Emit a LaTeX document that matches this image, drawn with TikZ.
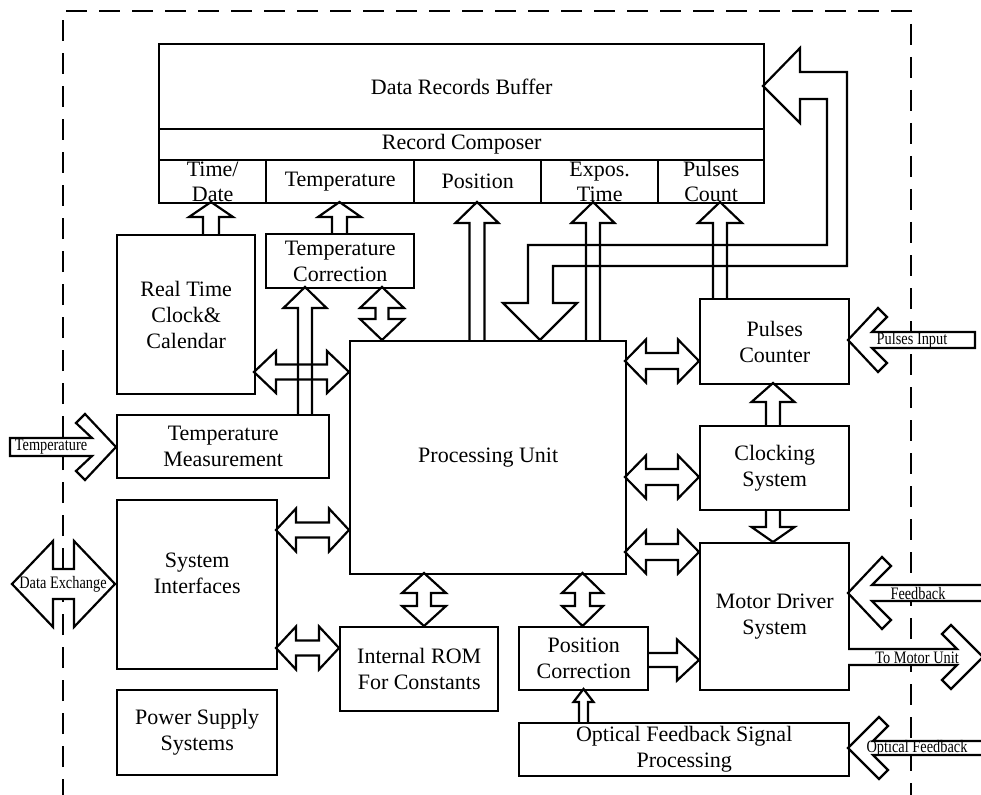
\documentclass[tikz,border=0pt]{standalone}
\usepackage{fontspec}
\usepackage{graphicx}
\setmainfont{Liberation Serif}
\tikzset{
  box/.style={draw, line width=2.4pt, inner sep=0pt},
  txt/.style={inner sep=0pt, align=center, font=\fontsize{22}{26}\selectfont},
  barr/.style={draw, line width=2.2pt, line join=miter},
  ext/.style={draw, fill=white, line width=2.2pt, line join=miter},
  lbl/.style={inner sep=0pt, font=\fontsize{17.5}{19}\selectfont},
  border/.style={line width=2.6pt, dash pattern=on 21pt off 12pt}
}
\newcommand{\lab}[1]{\scalebox{0.82}[1]{#1}}
\newcommand{\mybox}[7][]{%
  \node[box, anchor=north west, minimum width={(#5-#3)*1pt}, minimum height={(#6-#4)*1pt}] (#2) at (#3,#4) {};
  \node[txt,#1] (#2-t) at (#2.center) {#7};}
% vertical single arrow: xc, ybase, ytip, shaft half, head half, head length (neg = down)
\newcommand{\uarr}[6]{\draw[barr] ({#1-#4},{#2}) -- ({#1-#4},{#3+(#6)}) -- ({#1-#5},{#3+(#6)}) -- ({#1},{#3}) -- ({#1+#5},{#3+(#6)}) -- ({#1+#4},{#3+(#6)}) -- ({#1+#4},{#2});}
% horizontal single arrow: yc, xbase, xtip, shaft half, head half, head length
\newcommand{\harr}[6]{\draw[barr] ({#2},{#1-#4}) -- ({#3-(#6)},{#1-#4}) -- ({#3-(#6)},{#1-#5}) -- ({#3},{#1}) -- ({#3-(#6)},{#1+#5}) -- ({#3-(#6)},{#1+#4}) -- ({#2},{#1+#4});}
% vertical double arrow: xc, ytop, ybot, shaft half, head half, head length
\newcommand{\dvarr}[6]{\draw[barr] ({#1},{#2}) -- ({#1+#5},{#2+#6}) -- ({#1+#4},{#2+#6}) -- ({#1+#4},{#3-#6}) -- ({#1+#5},{#3-#6}) -- ({#1},{#3}) -- ({#1-#5},{#3-#6}) -- ({#1-#4},{#3-#6}) -- ({#1-#4},{#2+#6}) -- ({#1-#5},{#2+#6}) -- cycle;}
% horizontal double arrow: yc, xleft, xright, shaft half, head half, head length
\newcommand{\dharr}[6]{\draw[barr] ({#2},{#1}) -- ({#2+#6},{#1-#5}) -- ({#2+#6},{#1-#4}) -- ({#3-#6},{#1-#4}) -- ({#3-#6},{#1-#5}) -- ({#3},{#1}) -- ({#3-#6},{#1+#5}) -- ({#3-#6},{#1+#4}) -- ({#2+#6},{#1+#4}) -- ({#2+#6},{#1+#5}) -- cycle;}
\begin{document}
\begin{tikzpicture}[x=1pt,y=-1pt]
\useasboundingbox (0,0) rectangle (981,794);
\draw[border] (63,800) -- (63,11) -- (911,11) -- (911,800);

% boxes
\mybox{buf}{158}{43}{763}{128}{Data Records Buffer}
\mybox{rc}{158}{128}{763}{159}{Record Composer}
\mybox[font=\fontsize{22}{25}\selectfont]{ftd}{158}{159}{265}{202}{Time/\\Date}
\mybox{ftemp}{265}{159}{413}{202}{Temperature}
\mybox{fpos}{413}{159}{540}{202}{Position}
\mybox[font=\fontsize{22}{25}\selectfont]{fexp}{540}{159}{657}{202}{Expos.\\Time}
\mybox[font=\fontsize{22}{25}\selectfont]{fpc}{657}{159}{763}{202}{Pulses\\Count}
\mybox{rtc}{116}{234}{254}{393}{Real Time\\Clock\&\\Calendar}
\mybox{tc}{265}{233}{413}{287}{Temperature\\Correction}
\mybox{tm}{116}{414}{328}{477}{Temperature\\Measurement}
\mybox{pu}{349}{340}{625}{573}{Processing Unit}
\mybox[yshift=11pt]{si}{116}{499}{276}{668}{System\\Interfaces}
\mybox{ps}{116}{689}{276}{774}{Power Supply\\Systems}
\mybox{rom}{339}{626}{497}{710}{Internal ROM\\For Constants}
\mybox{pc}{518}{626}{647}{689}{Position\\Correction}
\mybox{md}{699}{542}{848}{689}{Motor Driver\\System}
\mybox{of}{518}{722}{848}{775}{Optical Feedback Signal\\Processing}
\mybox{pcnt}{699}{298}{848}{383}{Pulses\\Counter}
\mybox{cs}{699}{425}{848}{509}{Clocking\\System}

% single arrows into record fields
\uarr{211}{234}{202}{8}{22}{15}
\uarr{339.5}{233}{202}{7.5}{21.5}{15}
\uarr{477}{340}{202}{7.5}{21.5}{21}
\uarr{593}{340}{202}{7}{21.5}{21}
\uarr{720}{298}{202}{7}{22}{21}
% temperature measurement -> correction
\uarr{305}{414}{287}{7}{21.5}{21}
% clocking -> pulses counter, clocking -> motor
\uarr{773}{425}{383}{7}{21.5}{19}
\uarr{773}{509}{542}{7}{21.5}{-15}
% optical feedback -> position correction
\uarr{583.5}{722}{689}{4.5}{10}{13}
% position correction -> motor
\harr{660}{647}{699}{7}{20.5}{22}

% double arrows
\dharr{372}{254}{349}{7.5}{21}{22}
\dharr{530}{276}{349}{7.5}{21.5}{20}
\dharr{648}{276}{339}{7.5}{21.5}{20}
\dharr{361}{625}{699}{8}{21.5}{21}
\dharr{477}{625}{699}{8}{21.5}{21}
\dharr{552}{625}{699}{8}{21.5}{21}
\dvarr{382}{287}{340}{6.5}{22}{21}
\dvarr{424}{573}{626}{7}{22}{20}
\dvarr{582.5}{573}{626}{7.5}{20.5}{20}

% big return arrow to buffer
\draw[barr] (540,340) -- (503,303) -- (528,303) -- (528,245) -- (827,245) -- (827,99)
  -- (800,99) -- (800,123) -- (763,86) -- (800,48) -- (800,72) -- (847,72)
  -- (847,266) -- (553,266) -- (553,303) -- (577,303) -- cycle;

% external arrows
\draw[ext] (10,438) -- (92,438) -- (76,423) -- (85,414) -- (116,447) -- (85,480)
  -- (76,471) -- (92,456) -- (10,456) -- cycle;
\node[lbl] (lt) at (51,447) {\lab{Temperature}};

\draw[ext] (12,584) -- (53,541) -- (53,569) -- (74,569) -- (74,541) -- (115,584)
  -- (74,627) -- (74,599) -- (53,599) -- (53,627) -- cycle;
\node[lbl] (lde) at (63,584) {\lab{Data Exchange}};

\draw[ext] (975,332) -- (872,332) -- (887,317) -- (878,308) -- (848,340) -- (878,372)
  -- (887,363) -- (872,348) -- (975,348) -- cycle;
\node[lbl] (lpi) at (912,340) {\lab{Pulses Input}};

\fill[white] (990,585) -- (872,585) -- (891,566) -- (882,557) -- (848,593) -- (882,629)
  -- (891,620) -- (872,601) -- (990,601) -- cycle;
\draw[barr] (990,585) -- (872,585) -- (891,566) -- (882,557) -- (848,593) -- (882,629)
  -- (891,620) -- (872,601) -- (990,601);
\node[lbl] (lfb) at (918,594) {\lab{Feedback}};

\fill[white] (848,649) -- (957,649) -- (942,634) -- (951,625) -- (983,657) -- (951,689)
  -- (942,680) -- (957,665) -- (848,665) -- cycle;
\draw[barr] (848,649) -- (957,649) -- (942,634) -- (951,625) -- (983,657) -- (951,689)
  -- (942,680) -- (957,665) -- (848,665);
\node[lbl] (ltm) at (917,658) {\lab{To Motor Unit}};

\fill[white] (990,741) -- (873,741) -- (888,726) -- (879,717) -- (848,748) -- (879,779)
  -- (888,770) -- (873,755) -- (990,755) -- cycle;
\draw[barr] (990,741) -- (873,741) -- (888,726) -- (879,717) -- (848,748) -- (879,779)
  -- (888,770) -- (873,755) -- (990,755);
\node[lbl] (lof) at (917,748) {\lab{Optical Feedback}};
\end{tikzpicture}
\end{document}
